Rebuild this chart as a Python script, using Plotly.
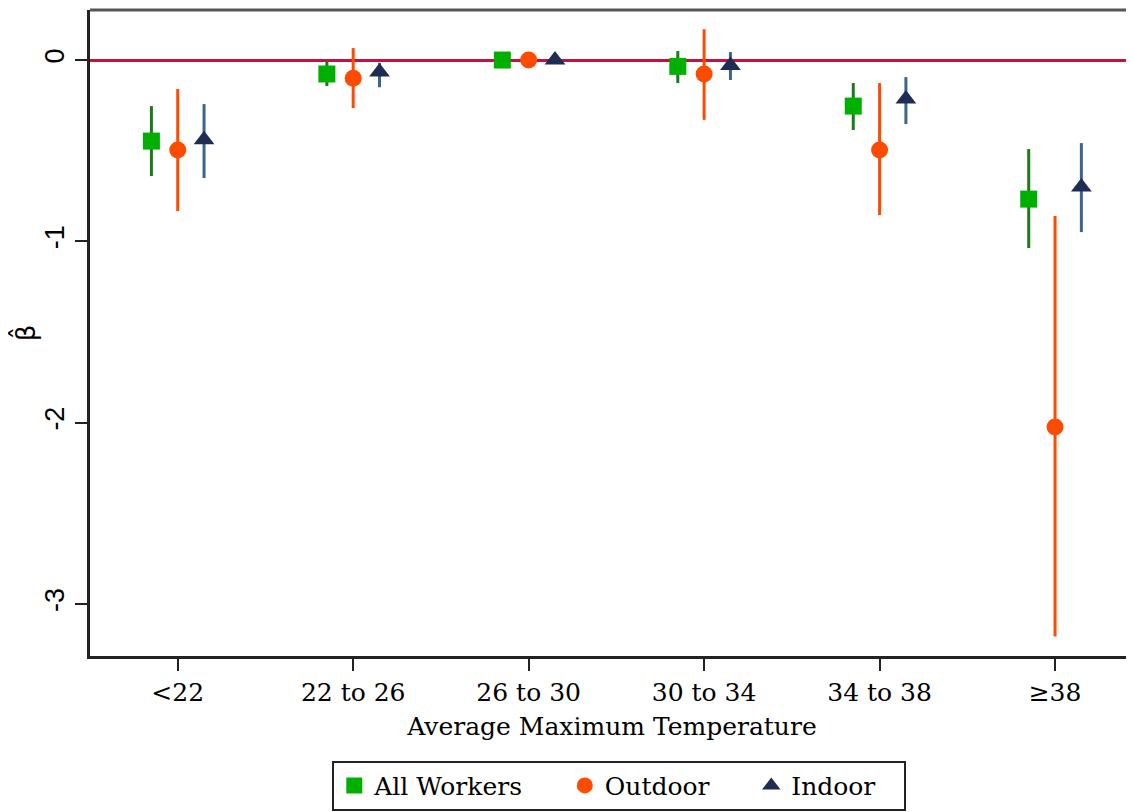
import plotly.graph_objects as go

categories = ["<22", "22 to 26", "26 to 30", "30 to 34", "34 to 38", "≥38"]

all_beta = [-0.447, -0.077, 0.0, -0.035, -0.254, -0.767]
all_lo = [-0.640, -0.143, 0.0, -0.127, -0.386, -1.037]
all_hi = [-0.254, -0.005, 0.0, 0.050, -0.127, -0.491]

out_beta = [-0.496, -0.100, 0.0, -0.077, -0.496, -2.024]
out_lo = [-0.833, -0.265, 0.0, -0.330, -0.855, -3.180]
out_hi = [-0.160, 0.066, 0.0, 0.170, -0.127, -0.860]

in_beta = [-0.440, -0.066, 0.0, -0.030, -0.215, -0.700]
in_lo = [-0.651, -0.150, 0.0, -0.110, -0.353, -0.949]
in_hi = [-0.243, -0.015, 0.0, 0.044, -0.094, -0.458]

# legend spacing, Stata style
pad = "\u00a0" * 4 + "\u2009"
series = [
    ("All Workers" + pad, all_beta, all_lo, all_hi, -0.15, "square", "#00b000", "#1c7a1c", 17),
    ("Outdoor" + pad, out_beta, out_lo, out_hi, 0.0, "circle", "#ff4b00", "#ff4b00", 17),
    ("Indoor" + "\u00a0" * 3, in_beta, in_lo, in_hi, 0.15, "triangle-up", "#1f2d55", "#3d6491", 18),
]

serif = "DejaVu Serif"

fig = go.Figure()
for name, beta, lo, hi, off, sym, mcol, ecol, size in series:
    xs = [i + 1 + off for i in range(len(categories))]
    fig.add_trace(go.Scatter(
        x=xs, y=beta, mode="markers", name=name,
        marker=dict(symbol=sym, color=mcol, size=size, line=dict(width=0)),
        error_y=dict(type="data", symmetric=False,
                     array=[h - b for h, b in zip(hi, beta)],
                     arrayminus=[b - l for b, l in zip(beta, lo)],
                     width=0, thickness=3, color=ecol),
    ))

fig.add_shape(type="line", xref="paper", yref="paper", x0=0, x1=1, y0=1, y1=1,
              line=dict(color="#555555", width=3))

fig.update_layout(
    width=1134, height=812,
    margin=dict(l=82, r=8, t=2, b=164, autoexpand=False),
    plot_bgcolor="white", paper_bgcolor="white",
    showlegend=True,
    legend=dict(orientation="h", x=0.507, xanchor="center", y=-0.162, yanchor="top",
                bordercolor="#222222", borderwidth=2,
                font=dict(family=serif, size=25, color="black")),
)
fig.update_xaxes(
    range=[0.5, 6.45], tickvals=[1, 2, 3, 4, 5, 6], ticktext=categories,
    automargin=False,
    showgrid=False, zeroline=False, showline=True, linecolor="#222222", linewidth=3,
    ticks="outside", ticklen=12, tickwidth=2, tickcolor="#222222",
    tickfont=dict(family=serif, size=25, color="black"),
    title=dict(text="Average Maximum Temperature", standoff=12,
               font=dict(family=serif, size=25, color="black")),
)
fig.update_yaxes(
    range=[-3.287, 0.276], tickvals=[0, -1, -2, -3], ticktext=["0", "-1", "-2", "-3"],
    automargin=False,
    showgrid=False, zeroline=True, zerolinecolor="#c8103c", zerolinewidth=3,
    showline=True, linecolor="#222222", linewidth=3,
    ticks="outside", ticklen=12, tickwidth=2, tickcolor="#222222", tickangle=-90,
    tickfont=dict(family="Liberation Sans", size=27, color="black"),
    title=dict(text="β\u0302", standoff=7,
               font=dict(family="DejaVu Sans", size=26, color="black")),
)

fig.write_html("out.html")
